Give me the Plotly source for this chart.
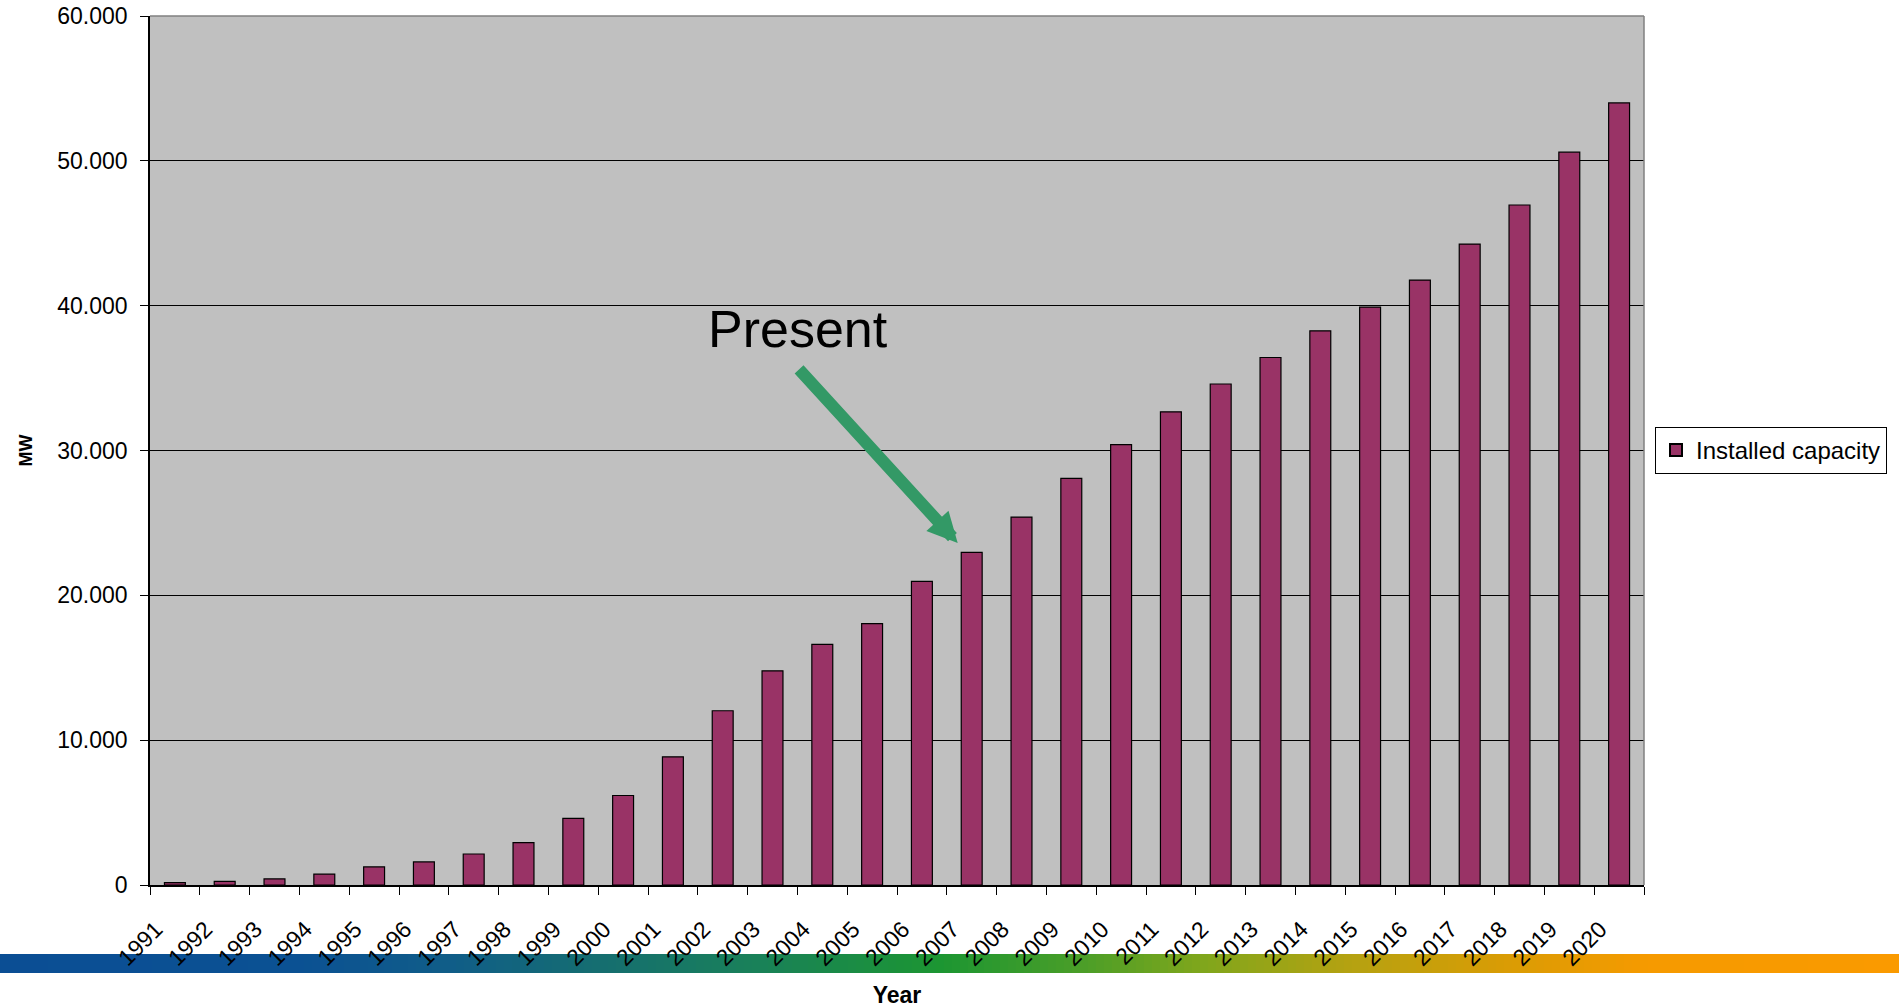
import plotly.graph_objects as go

# ---- data ----
years = [str(y) for y in range(1991, 2021)]
capacity = [170, 250, 420, 750, 1250, 1590, 2140, 2920, 4600, 6180,
            8850, 12030, 14790, 16620, 18050, 20970, 22970, 25400, 28070, 30410,
            32670, 34590, 36420, 38260, 39900, 41770, 44250, 46950, 50600, 54000]
series_name = "Installed capacity"
y_tickvals = [0, 10000, 20000, 30000, 40000, 50000, 60000]
present_year = "2007"
present_label = "Present"

# ---- layout geometry (px) ----
W, H = 1899, 1008
L, R, T, B = 150, 1899 - 1644, 16, 1008 - 885
pw, ph = W - L - R, H - T - B

def px_x(x):
    return (x - L) / pw

def px_y(y):
    return (H - B - y) / ph

fig = go.Figure()
fig.add_trace(go.Bar(
    x=years, y=capacity, name=series_name,
    marker=dict(color="#993366", line=dict(color="#000000", width=1.2)),
    width=0.42, showlegend=True,
))

# gradient band
stops = [(0, "#0b4e94"), (300, "#0b5193"), (450, "#105d88"), (600, "#156e70"),
         (750, "#19805a"), (940, "#1c9632"), (1080, "#4a9e28"), (1200, "#7fa61c"),
         (1350, "#b5a211"), (1500, "#d89c05"), (1650, "#f69a00"), (1899, "#fa9a00")]

def hex2rgb(h):
    h = h.lstrip("#")
    return [int(h[i:i + 2], 16) for i in (0, 2, 4)]

def color_at(x):
    for (x0, c0), (x1, c1) in zip(stops[:-1], stops[1:]):
        if x0 <= x <= x1:
            t = (x - x0) / (x1 - x0) if x1 > x0 else 0
            a, b = hex2rgb(c0), hex2rgb(c1)
            return "rgb(%d,%d,%d)" % tuple(round(a[i] + (b[i] - a[i]) * t) for i in range(3))
    return stops[-1][1]

shapes = []
step = 8
for x in range(0, W, step):
    shapes.append(dict(type="rect", xref="paper", yref="paper",
                       x0=px_x(x), x1=px_x(min(x + step + 1, W)),
                       y0=px_y(973), y1=px_y(954),
                       fillcolor=color_at(x + step / 2), line=dict(width=0),
                       layer="below"))
# gray border top/right
shapes.append(dict(type="line", xref="paper", yref="paper", x0=0, x1=1, y0=1, y1=1,
                   line=dict(color="#808080", width=1.5), layer="above"))
shapes.append(dict(type="line", xref="paper", yref="paper", x0=1, x1=1, y0=0, y1=1,
                   line=dict(color="#808080", width=1.5), layer="above"))

idx = years.index(present_year)
annotations = [
    dict(x=idx, y=capacity[idx] + 650, xref="x", yref="y",
         xshift=-14, text="", showarrow=True, arrowhead=2, arrowsize=0.5,
         arrowwidth=12, arrowcolor="#339966", ax=-160, ay=-175, axref="pixel", ayref="pixel"),
    dict(x=px_x(798), y=px_y(329), xref="paper", yref="paper", text=present_label,
         showarrow=False, font=dict(size=52, color="#000000"),
         xanchor="center", yanchor="middle"),
]

font_family = "Liberation Sans, Arial, sans-serif"
fig.update_layout(
    width=W, height=H,
    margin=dict(l=L, r=R, t=T, b=B, autoexpand=False),
    paper_bgcolor="#ffffff", plot_bgcolor="#c0c0c0",
    font=dict(family=font_family, color="#000000"),
    separators=",.",
    bargap=0.58,
    shapes=shapes, annotations=annotations,
    legend=dict(x=px_x(1655), y=0.5, xanchor="left", yanchor="middle",
                bgcolor="#ffffff", bordercolor="#000000", borderwidth=1,
                font=dict(size=24), itemsizing="constant"),
    xaxis=dict(type="category", range=[-0.5, len(years) - 0.5],
               tickson="boundaries", ticks="outside", ticklen=8,
               tickcolor="#000000", tickangle=-45, tickfont=dict(size=23),
               showline=True, linecolor="#000000", linewidth=1.5,
               showgrid=False, ticklabelstandoff=20, ticklabelshift=-19,
               title=dict(text="Year", font=dict(size=23, weight="bold"), standoff=24)),
    yaxis=dict(range=[0, 60000], tickvals=y_tickvals, tickformat=",d",
               ticks="outside", ticklen=8, tickcolor="#000000",
               tickfont=dict(size=23), ticklabelstandoff=8,
               showline=True, linecolor="#000000", linewidth=1.5,
               showgrid=True, gridcolor="#000000", gridwidth=1, zeroline=False,
               title=dict(text="MW", font=dict(size=18, weight="bold"), standoff=20)),
)

fig.write_html("out.html", config={"displayModeBar": False},
               post_script="document.body.style.margin='0';")
